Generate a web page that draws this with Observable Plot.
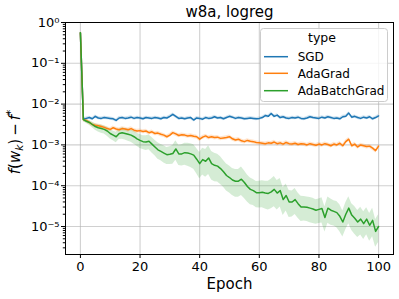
<!DOCTYPE html>
<html>
<head>
<meta charset="utf-8">
<script src="https://cdn.jsdelivr.net/npm/d3@7"></script>
<script src="https://cdn.jsdelivr.net/npm/@observablehq/plot@0.6"></script>
<style>
  html, body { margin: 0; padding: 0; background: #fff; }
  #chart { width: 399px; height: 299px; }
  svg { display: block; }
</style>
</head>
<body>
<div id="chart"></div>
<script>
// ---------- data (stored as log10 of f(w_k) - f*) ----------
const epochs = d3.range(0, 101);
const types = ["SGD", "AdaGrad", "AdaBatchGrad"];
const colors = ["#1f77b4", "#ff7f0e", "#2ca02c"];
const title = "w8a, logreg";
const xLabel = "Epoch";
const xTicks = [0, 20, 40, 60, 80, 100];
const yTickExponents = [0, -1, -2, -3, -4, -5];

const sgdLog = [-0.25,
  -2.37,-2.35,-2.33,-2.36,-2.30,-2.34,-2.35,-2.33,-2.34,-2.35,
  -2.36,-2.40,-2.34,-2.33,-2.35,-2.34,-2.32,-2.35,-2.33,-2.34,
  -2.36,-2.33,-2.34,-2.35,-2.33,-2.34,-2.36,-2.33,-2.34,-2.30,
  -2.25,-2.30,-2.35,-2.34,-2.36,-2.34,-2.33,-2.39,-2.34,-2.35,
  -2.37,-2.33,-2.35,-2.34,-2.31,-2.34,-2.33,-2.36,-2.33,-2.30,
  -2.32,-2.35,-2.33,-2.34,-2.36,-2.35,-2.34,-2.35,-2.36,-2.35,
  -2.33,-2.28,-2.30,-2.23,-2.30,-2.27,-2.33,-2.31,-2.34,-2.35,
  -2.33,-2.34,-2.32,-2.35,-2.36,-2.34,-2.31,-2.33,-2.34,-2.35,
  -2.32,-2.34,-2.31,-2.33,-2.35,-2.34,-2.36,-2.31,-2.30,-2.22,
  -2.32,-2.30,-2.33,-2.35,-2.32,-2.34,-2.31,-2.36,-2.33,-2.29];

const adagradLog = [-0.25,
  -2.38,-2.40,-2.45,-2.50,-2.52,-2.53,-2.55,-2.57,-2.60,-2.62,
  -2.58,-2.61,-2.63,-2.60,-2.61,-2.63,-2.60,-2.64,-2.66,-2.65,
  -2.67,-2.66,-2.70,-2.68,-2.72,-2.71,-2.74,-2.76,-2.80,-2.76,
  -2.70,-2.73,-2.77,-2.75,-2.76,-2.78,-2.77,-2.79,-2.80,-2.86,
  -2.81,-2.78,-2.82,-2.80,-2.82,-2.81,-2.84,-2.83,-2.82,-2.80,
  -2.85,-2.88,-2.86,-2.90,-2.92,-2.89,-2.91,-2.92,-2.94,-2.95,
  -2.96,-2.97,-2.95,-2.96,-2.93,-2.97,-2.95,-2.98,-2.94,-2.97,
  -2.98,-2.96,-2.99,-2.97,-2.98,-3.00,-2.97,-2.99,-3.01,-2.98,
  -3.00,-2.97,-2.99,-3.02,-2.98,-3.00,-2.96,-3.02,-2.92,-2.86,
  -3.02,-2.98,-3.05,-3.00,-3.02,-3.04,-3.03,-3.08,-3.14,-3.03];

const adabatchLog = [-0.25,
  -2.38,-2.42,-2.45,-2.50,-2.55,-2.58,-2.60,-2.62,-2.66,-2.72,
  -2.76,-2.80,-2.72,-2.70,-2.72,-2.74,-2.76,-2.80,-2.85,-2.89,
  -2.92,-2.93,-2.91,-2.98,-3.05,-3.12,-3.16,-3.20,-3.24,-3.23,
  -3.21,-3.10,-3.22,-3.22,-3.19,-3.20,-3.22,-3.25,-3.35,-3.46,
  -3.36,-3.40,-3.32,-3.46,-3.50,-3.52,-3.58,-3.66,-3.75,-3.80,
  -3.86,-3.89,-3.89,-3.84,-3.92,-4.02,-4.09,-4.12,-4.17,-4.17,
  -4.16,-4.18,-4.19,-4.15,-4.09,-4.18,-4.12,-4.34,-4.24,-4.40,
  -4.40,-4.34,-4.44,-4.52,-4.52,-4.53,-4.55,-4.57,-4.60,-4.58,
  -4.56,-4.78,-4.55,-4.60,-4.63,-4.66,-4.75,-4.89,-4.70,-4.55,
  -4.72,-4.80,-4.89,-4.82,-4.93,-4.82,-4.97,-4.85,-5.12,-5.00];

// confidence band half-widths (log10 units)
const sgdBand = 0.04;
const adagradBand = 0.05;
const adabatchBand = [0.02,
  0.04,0.05,0.06,0.07,0.08,0.09,0.10,0.10,0.11,0.12,
  0.12,0.13,0.13,0.14,0.14,0.15,0.15,0.16,0.16,0.17,
  0.17,0.18,0.18,0.19,0.19,0.20,0.20,0.21,0.21,0.22,
  0.23,0.24,0.25,0.26,0.27,0.28,0.29,0.30,0.31,0.32,
  0.33,0.34,0.35,0.35,0.35,0.34,0.34,0.33,0.33,0.33,
  0.33,0.34,0.34,0.35,0.34,0.33,0.33,0.32,0.32,0.33,
  0.33,0.34,0.35,0.36,0.37,0.36,0.35,0.34,0.33,0.33,
  0.32,0.32,0.31,0.31,0.30,0.30,0.31,0.31,0.30,0.30,
  0.31,0.31,0.32,0.32,0.31,0.32,0.33,0.32,0.33,0.33,
  0.33,0.34,0.33,0.34,0.34,0.33,0.34,0.35,0.34,0.34];

// ---------- build table ----------
const seriesLogs = [sgdLog, adagradLog, adabatchLog];
const seriesBands = [epochs.map(() => sgdBand), epochs.map(() => adagradBand), adabatchBand];
const rows = [];
types.forEach((t, i) => {
  epochs.forEach((e, j) => {
    const l = seriesLogs[i][j], w = seriesBands[i][j];
    rows.push({epoch: e, type: t, value: 10 ** l, lo: 10 ** (l - 1.15 * w), hi: 10 ** (l + 0.85 * w)});
  });
});

const yTicks = yTickExponents.map(k => 10 ** k);
const yMinor = [];
for (let k = -6; k < 0; k++) for (let m = 2; m <= 9; m++) { const v = m * 10 ** k; if (v >= 2.06e-6) yMinor.push(v); }
const supMap = {"-": "\u207B", "0": "\u2070", "1": "\u00B9", "2": "\u00B2", "3": "\u00B3", "4": "\u2074", "5": "\u2075", "6": "\u2076", "7": "\u2077", "8": "\u2078", "9": "\u2079"};
const fmtPow = d => "10" + String(Math.round(Math.log10(d))).split("").map(c => supMap[c]).join("");

const font = "DejaVu Sans, sans-serif";
const chart = Plot.plot({
  width: 399,
  height: 299,
  marginTop: 22,
  marginBottom: 45,
  marginLeft: 65,
  marginRight: 6,
  style: {fontFamily: font, fontSize: "13px", background: "#fff", color: "#000"},
  x: {domain: [-5, 105], label: null},
  y: {type: "log", domain: [2.06e-6, 1], label: null},
  color: {domain: types, range: colors},
  marks: [
    Plot.gridX(xTicks, {stroke: "#b0b0b0", strokeOpacity: 0.6, strokeWidth: 1.1}),
    Plot.gridY(yTicks, {stroke: "#b0b0b0", strokeOpacity: 0.6, strokeWidth: 1.1}),
    Plot.areaY(rows, {x: "epoch", y1: "lo", y2: "hi", z: "type", fill: "type", fillOpacity: 0.2}),
    Plot.lineY(rows, {x: "epoch", y: "value", z: "type", stroke: "type", strokeWidth: 1.5}),
    Plot.axisX(xTicks, {tickSize: 4, tickPadding: 3.5, fontSize: 13, label: null, stroke: "#000"}),
    Plot.axisY(yTicks, {tickSize: 4, tickPadding: 2, fontSize: 13, tickFormat: fmtPow, label: null, stroke: "#000"}),
    Plot.axisY(yMinor, {tickSize: 2.2, tickFormat: () => "", label: null, stroke: "#000"}),
    Plot.frame({stroke: "#000", strokeWidth: 1}),
    Plot.text([title], {frameAnchor: "top", lineAnchor: "middle", dy: -10, fontSize: 15, fill: "#000"}),
    Plot.text([xLabel], {frameAnchor: "bottom", lineAnchor: "middle", dy: 30, fontSize: 15, fill: "#000"})
  ]
});
document.getElementById("chart").appendChild(chart);

// ---------- y label (math text) and legend ----------
const svg = d3.select(chart);
const yl = svg.append("text")
  .attr("transform", "translate(19.5,142) rotate(-90)")
  .attr("text-anchor", "middle")
  .attr("font-family", font)
  .attr("font-size", 15)
  .attr("fill", "#000");
yl.append("tspan").attr("font-style", "italic").text("f");
yl.append("tspan").text("(");
yl.append("tspan").attr("font-style", "italic").text("w");
yl.append("tspan").attr("font-style", "italic").attr("font-size", 10.5).attr("dy", 3).text("k");
yl.append("tspan").attr("dy", -3).text(")\u2009\u2212\u2009");
yl.append("tspan").attr("font-style", "italic").text("f");
yl.append("tspan").attr("font-size", 10.5).attr("dy", -6).text("*");

const lg = svg.append("g").attr("font-family", font).attr("fill", "#000");
lg.append("rect").attr("x", 260.5).attr("y", 28.5).attr("width", 127).attr("height", 73)
  .attr("rx", 3).attr("fill", "#fff").attr("fill-opacity", 0.8).attr("stroke", "#cccccc").attr("stroke-width", 1);
lg.append("text").attr("x", 322).attr("y", 42.3).attr("text-anchor", "middle").attr("font-size", 12.5).text("type");
const entryY = [56.7, 73.3, 90.7];
types.forEach((t, i) => {
  lg.append("line").attr("x1", 264).attr("x2", 288).attr("y1", entryY[i]).attr("y2", entryY[i])
    .attr("stroke", colors[i]).attr("stroke-width", 1.5);
  lg.append("text").attr("x", 297.7).attr("y", entryY[i] + 4.3).attr("text-anchor", "start")
    .attr("font-size", 12).text(t);
});
</script>
</body>
</html>
